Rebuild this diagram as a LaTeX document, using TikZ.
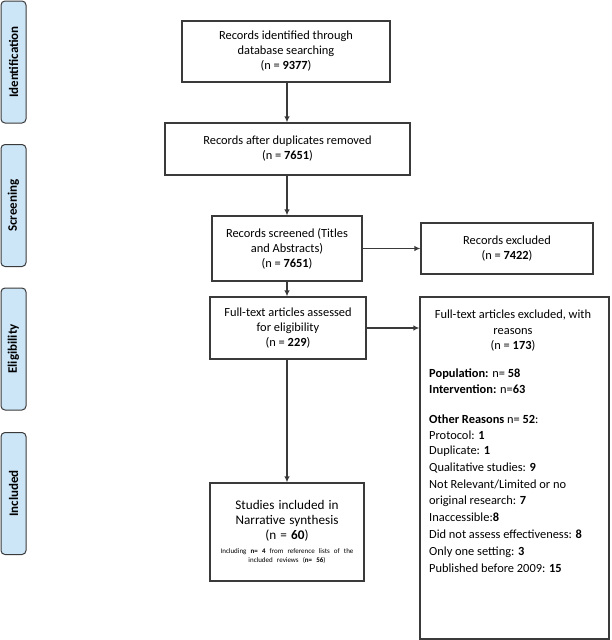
\documentclass[tikz,border=0pt]{standalone}
\usepackage{fontspec}
\setmainfont{Carlito}
\usetikzlibrary{arrows.meta}
\definecolor{lblfill}{HTML}{CCE6F8}
\definecolor{linegray}{HTML}{3A3A3A}
\tikzset{
  box/.style={draw=linegray, line width=1.2pt, rectangle, align=center, inner sep=2pt,
    font=\fontsize{12.4}{15}\selectfont},
  stagelbl/.style={draw=linegray, line width=1pt, fill=lblfill, rounded corners=4pt,
    minimum width=25pt, minimum height=122pt, inner sep=0pt},
  stagetxt/.style={rotate=90, font=\fontsize{13}{15}\selectfont\bfseries},
  arr/.style={draw=linegray, line width=1.2pt, -{Latex[length=6pt,width=5.5pt]}}
}
\begin{document}
\begin{tikzpicture}[x=1pt,y=-1pt]
\useasboundingbox (0,0) rectangle (611,640);
% stage labels
\node[stagelbl] (L1) at (13.5,62) {};
\node[stagetxt] at (L1.center) {Identification};
\node[stagelbl] (L2) at (13.5,205.5) {};
\node[stagetxt] at (L2.center) {Screening};
\node[stagelbl] (L3) at (13.5,349) {};
\node[stagetxt] at (L3.center) {Eligibility};
\node[stagelbl] (L4) at (13.5,493.5) {};
\node[stagetxt] at (L4.center) {Included};
% main boxes
\node[box, minimum width=208pt, minimum height=61pt] (b1) at (286,51.5)
  {Records identified through\\database searching\\(n = \textbf{9377})};
\node[box, minimum width=245pt, minimum height=52pt] (b2) at (287.5,149)
  {Records after duplicates removed\\(n = \textbf{7651})};
\node[box, minimum width=150pt, minimum height=65pt] (b3) at (287,248.5)
  {Records screened (Titles\\and Abstracts)\\(n = \textbf{7651})};
\node[box, minimum width=172pt, minimum height=51pt] (e1) at (507,248.5)
  {Records excluded\\(n = \textbf{7422})};
\node[box, minimum width=156pt, minimum height=62pt] (b4) at (288,328)
  {Full-text articles assessed\\for eligibility\\(n = \textbf{229})};
\node[box, minimum width=154pt, minimum height=98pt, text width=148pt] (b5) at (287,532)
  {\centering\fontsize{13.2}{15}\selectfont Studies included in\\Narrative synthesis\\(n = \textbf{60})\par
   \vspace{4pt}{\fontsize{7}{9.5}\selectfont Including \textbf{n= 4} from reference lists of the\\included reviews (\textbf{n= 56})\par}};
\node[box, minimum width=189pt, minimum height=342pt] (e2) at (514.5,468) {};
\node[align=center, inner sep=0pt, font=\fontsize{12.4}{15.5}\selectfont] (e2h) at (513,331)
  {Full-text articles excluded, with\\reasons\\(n = \textbf{173})};
\node[anchor=north west, align=left, inner sep=0pt, font=\fontsize{12.4}{15.3}\selectfont] (e2l) at (429,369)
  {\textbf{Population:} n= \textbf{58}\\
   \textbf{Intervention:} n=\textbf{63}\\
   \mbox{}\\
   \textbf{Other Reasons} n= \textbf{52}:\\
   Protocol: \textbf{1}\\
   Duplicate: \textbf{1}\\[1.5pt]
   Qualitative studies: \textbf{9}\\[1.5pt]
   Not Relevant/Limited or no\\[1.5pt]
   original research: \textbf{7}\\[1.5pt]
   Inaccessible:\textbf{8}\\[1.5pt]
   Did not assess effectiveness: \textbf{8}\\[1.5pt]
   Only one setting: \textbf{3}\\[1.5pt]
   Published before 2009: \textbf{15}};
% connectors
\draw[arr] (b1.south -| 287,0) -- (b2.north -| 287,0);
\draw[arr] (b2.south -| 287,0) -- (b3.north -| 287,0);
\draw[arr] (b3.south -| 287,0) -- (b4.north -| 287,0);
\draw[arr] (b4.south -| 287,0) -- (b5.north -| 287,0);
\draw[arr] (b3.east) -- (e1.west);
\draw[arr] (b4.east) -- (b4.east -| e2.west);
\end{tikzpicture}
\end{document}
